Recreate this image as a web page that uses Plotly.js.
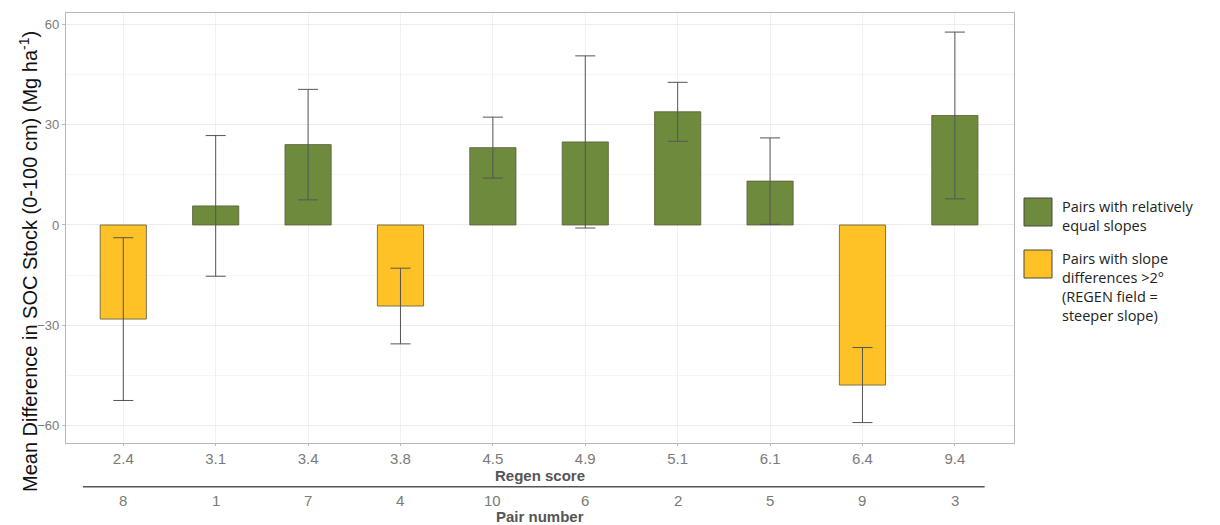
<!DOCTYPE html>
<html>
<head>
<meta charset="utf-8">
<script src="https://cdn.plot.ly/plotly-3.0.1.min.js"></script>
<style>html,body{margin:0;padding:0;background:#fff;}#chart{width:1220px;height:525px;}</style>
</head>
<body>
<div id="chart"></div>
<script>
const regenScores = ["2.4","3.1","3.4","3.8","4.5","4.9","5.1","6.1","6.4","9.4"];
const pairNumbers = ["8","1","7","4","10","6","2","5","9","3"];
const meanDiff = [-28.1, 5.7, 24.0, -24.2, 23.1, 24.8, 33.8, 13.1, -47.8, 32.7];
const errHalf = [24.3, 21.0, 16.5, 11.3, 9.1, 25.7, 8.8, 12.9, 11.2, 24.9];
const groups = ["slope","equal","equal","slope","equal","equal","equal","equal","slope","equal"];
const groupNames = {equal: "Pairs with relatively<br>equal slopes", slope: "Pairs with slope<br>differences >2°<br>(REGEN field =<br>steeper slope)"};
const groupColors = {equal: "#6e8b3d", slope: "#fec126"};
const yTicks = [-60, -30, 0, 30, 60];
const yTitle = "Mean Difference in SOC Stock (0-100 cm) (Mg ha<sup>-1</sup>)";

const FONT = "Liberation Sans, Arial, sans-serif";
const idx = regenScores.map((_, i) => i);
const traces = ["equal", "slope"].map(g => {
  const ii = idx.filter(i => groups[i] === g);
  return {
    type: "bar",
    x: ii.map(i => i),
    y: ii.map(i => meanDiff[i]),
    width: 0.5,
    name: groupNames[g],
    showlegend: false,
    marker: {color: groupColors[g], line: {color: "#5a5a3a", width: 0.8}},
    error_y: {type: "data", array: ii.map(i => errHalf[i]), visible: true, color: "#555555", thickness: 1, width: 10},
    hoverinfo: "x+y"
  };
});

const annotations = pairNumbers.map((p, i) => ({
  x: i, xref: "x", y: -0.133, yref: "paper", text: p, showarrow: false,
  font: {family: FONT, size: 15, color: "#7a7a7a"}, yanchor: "middle"
}));
annotations.push({x: 0.5, xref: "paper", y: -0.17, yref: "paper", yanchor: "middle", text: "<b>Pair number</b>", showarrow: false,
  font: {family: FONT, size: 15, color: "#555555"}});
annotations.push({x: (28 - 66) / 948, xref: "paper", y: (443 - 262) / 430, yref: "paper", xanchor: "center", yanchor: "middle",
  textangle: -90, text: yTitle, showarrow: false, font: {family: FONT, size: 20, color: "#111"}});

// legend (custom)
const legItems = ["equal", "slope"];
const legY = [212, 264];
const shapes = [
  {type: "line", xref: "paper", yref: "paper", x0: 0.018, x1: 0.969, y0: -0.102, y1: -0.102, line: {color: "#555555", width: 1.5}}
];
legItems.forEach((g, k) => {
  const top = legY[k] - 14;
  shapes.push({type: "rect", xref: "paper", yref: "paper",
    x0: (1024 - 66) / 948, x1: (1052 - 66) / 948,
    y0: (443 - top) / 430, y1: (443 - (top + 28)) / 430,
    fillcolor: groupColors[g], line: {color: "#4a4a3a", width: 1}});
  annotations.push({xref: "paper", yref: "paper", x: (1060 - 66) / 948, y: (443 - (top - 3)) / 430,
    xanchor: "left", yanchor: "top", align: "left", showarrow: false, text: groupNames[g],
    font: {family: "Open Sans, Liberation Sans, sans-serif", size: 14.5, color: "#222"}});
});

const layout = {
  width: 1220, height: 525,
  margin: {l: 66, r: 206, t: 13, b: 82},
  paper_bgcolor: "#ffffff", plot_bgcolor: "#ffffff",
  showlegend: false,
  xaxis: {
    tickmode: "array", tickvals: idx, ticktext: regenScores,
    range: [-0.62, 9.64], showgrid: true, gridcolor: "#f0f0f0", gridwidth: 1,
    zeroline: false, showline: true, linecolor: "#b8b8b8", linewidth: 1.2, mirror: true,
    ticks: "outside", ticklen: 2, tickcolor: "#bbbbbb",
    tickfont: {family: FONT, size: 15, color: "#7a7a7a"},
    title: {text: "<b>Regen score</b>", standoff: 0, font: {family: FONT, size: 15, color: "#555555"}}
  },
  yaxis: {
    range: [-65.1, 63.3], tickvals: yTicks, showgrid: true, gridcolor: "#ececec", gridwidth: 1,
    minor: {dtick: 15, showgrid: true, gridcolor: "#f6f6f6", gridwidth: 1, tick0: 15},
    zeroline: false, showline: true, linecolor: "#b8b8b8", linewidth: 1.2, mirror: true,
    ticks: "outside", ticklen: 3, tickcolor: "#bbbbbb",
    tickfont: {family: FONT, size: 13, color: "#7a7a7a"}
  },
  shapes: shapes,
  annotations: annotations
};

Plotly.newPlot("chart", traces, layout, {displayModeBar: false, staticPlot: true});
</script>
</body>
</html>
